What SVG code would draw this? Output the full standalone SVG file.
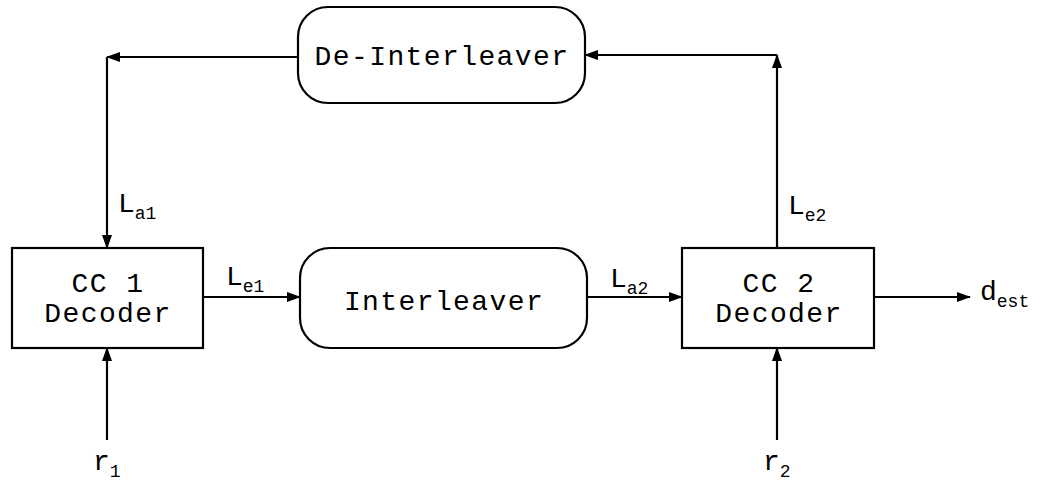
<svg xmlns="http://www.w3.org/2000/svg" width="1041" height="487" viewBox="0 0 1041 487">
<defs>
<marker id="ah" markerWidth="14" markerHeight="10" refX="13" refY="5" orient="auto" markerUnits="userSpaceOnUse">
<path d="M0,0 L14,5 L0,10 Z" fill="#000"/>
</marker>
<style>
.box{fill:#fff;stroke:#000;stroke-width:2.2}
.t{font-family:"Liberation Mono","DejaVu Sans Mono",monospace;font-size:28px;letter-spacing:1.4px;fill:#000;text-anchor:middle}
.l{font-family:"Liberation Mono","DejaVu Sans Mono",monospace;font-size:28px;fill:#000}
.s{font-size:18px}
.c{fill:none;stroke:#000;stroke-width:2.2}
</style>
</defs>
<rect width="1041" height="487" fill="#fff"/>
<g id="connectors">
<path class="c" d="M298,57 H107" marker-end="url(#ah)"/>
<path class="c" d="M107,57 V248" marker-end="url(#ah)"/>
<path class="c" d="M203,297 H300" marker-end="url(#ah)"/>
<path class="c" d="M587,297 H682" marker-end="url(#ah)"/>
<path class="c" d="M777,248 V55" marker-end="url(#ah)"/>
<path class="c" d="M777,55 H585" marker-end="url(#ah)"/>
<path class="c" d="M874,297 H970" marker-end="url(#ah)"/>
<path class="c" d="M107,440 V348" marker-end="url(#ah)"/>
<path class="c" d="M777,440 V348" marker-end="url(#ah)"/>
</g>
<g id="deinterleaver">
<rect class="box" x="298" y="7" width="287" height="96" rx="30" ry="30"/>
<text class="t" x="442" y="65">De-Interleaver</text>
</g>
<g id="cc1">
<rect class="box" x="12" y="248" width="191" height="100"/>
<text class="t" x="108" y="292">CC 1</text>
<text class="t" x="108" y="322">Decoder</text>
</g>
<g id="interleaver">
<rect class="box" x="300" y="248" width="287" height="100" rx="30" ry="30"/>
<text class="t" x="444" y="310">Interleaver</text>
</g>
<g id="cc2">
<rect class="box" x="682" y="248" width="192" height="100"/>
<text class="t" x="779" y="292">CC 2</text>
<text class="t" x="779" y="322">Decoder</text>
</g>
<g id="labels">
<text class="l" x="118" y="212">L<tspan class="s" dy="7">a1</tspan></text>
<text class="l" x="226" y="285">L<tspan class="s" dy="7">e1</tspan></text>
<text class="l" x="610" y="287">L<tspan class="s" dy="7">a2</tspan></text>
<text class="l" x="788" y="214">L<tspan class="s" dy="7">e2</tspan></text>
<text class="l" x="980" y="300">d<tspan class="s" dy="7">est</tspan></text>
<text class="l" x="93" y="470">r<tspan class="s" dy="7">1</tspan></text>
<text class="l" x="763" y="470">r<tspan class="s" dy="7">2</tspan></text>
</g>
</svg>
